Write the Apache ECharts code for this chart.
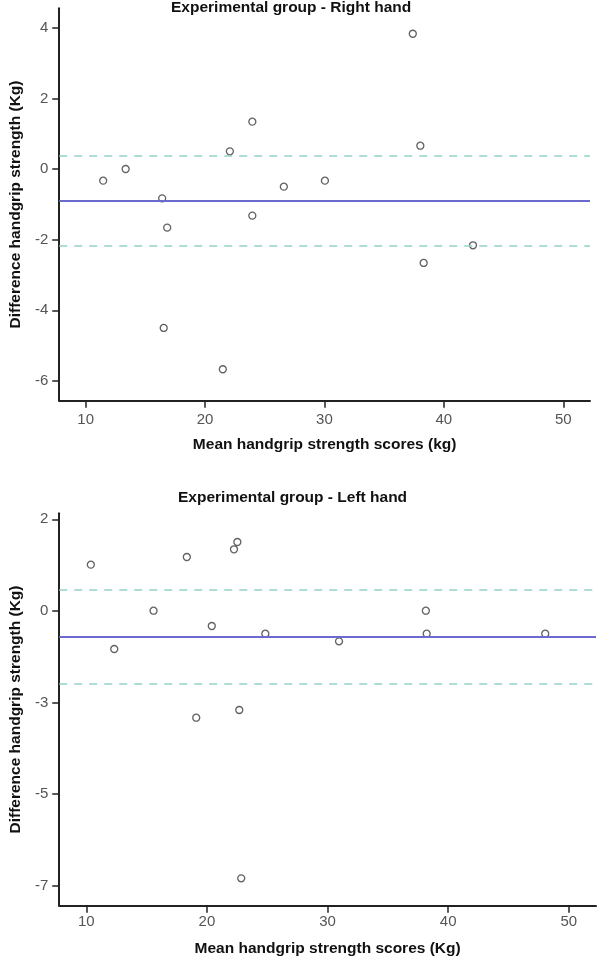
<!DOCTYPE html>
<html><head><meta charset="utf-8">
<script src="https://cdn.jsdelivr.net/npm/echarts@6/dist/echarts.min.js"></script>
<style>html,body{margin:0;padding:0;background:#fff}#c{width:597px;height:959px}</style>
</head><body><div id="c"></div>
<script>
// ---- Right hand (top panel) ----
const rightTitle = 'Experimental group - Right hand';
const rightXName = 'Mean handgrip strength scores (kg)';
const rightYName = 'Difference handgrip strength (Kg)';
const rightMeanScores = [11.47, 13.35, 16.41, 16.83, 16.54, 21.49, 22.08, 23.96, 23.96, 26.6, 30.04, 37.4, 38.03, 38.31, 42.44];
const rightDiffs      = [-0.33, 0.0, -0.83, -1.66, -4.5, -5.67, 0.5, 1.34, -1.32, -0.5, -0.33, 3.83, 0.66, -2.66, -2.16];
const rightBias = -0.9;
const rightUpperLoA = 0.38;
const rightLowerLoA = -2.18;
const rightXTicks = [10, 20, 30, 40, 50];
const rightYTicks = [-6, -4, -2, 0, 2, 4];
const rightYTickLabels = ['-6', '-4', '-2', '0', '2', '4'];

// ---- Left hand (bottom panel) ----
const leftTitle = 'Experimental group - Left hand';
const leftXName = 'Mean handgrip strength scores (Kg)';
const leftYName = 'Difference handgrip strength (Kg)';
const leftMeanScores = [10.37, 12.31, 15.57, 18.33, 20.4, 22.24, 22.52, 24.84, 30.95, 38.15, 38.22, 48.05, 19.11, 22.68, 22.84];
const leftDiffs      = [0.885, -1.186, -0.245, 1.074, -0.621, 1.263, 1.442, -0.81, -0.997, -0.245, -0.81, -0.81, -2.873, -2.684, -6.818];
const leftBias = -0.89;
const leftUpperLoA = 0.263;
const leftLowerLoA = -2.033;
const leftXTicks = [10, 20, 30, 40, 50];
const leftYTicks = [2, -0.25, -2.5, -4.75, -7];
const leftYTickLabels = ['2', '0', '-3', '-5', '-7'];

const FONT = 'Liberation Sans';
const axisLineStyle = { color: '#222', width: 2 };
const tickStyle = { length: 7, lineStyle: { color: '#222', width: 1.5 } };
const labelStyle = { color: '#555', fontSize: 15, fontFamily: FONT };
const nameStyle = { color: '#111', fontSize: 15.5, fontWeight: 'bold', fontFamily: FONT };

function zip(a, b) { return a.map((v, i) => [v, b[i]]); }
function lookup(vals, labels) {
  return function (v) {
    for (let i = 0; i < vals.length; i++) if (Math.abs(vals[i] - v) < 1e-6) return labels[i];
    return '';
  };
}
function refLines(bias, up, lo) {
  const dash = { color: '#94d2c8', width: 1.5, type: [8, 7] };
  return {
    silent: true, symbol: ['none', 'none'], label: { show: false },
    data: [
      { yAxis: up, lineStyle: dash },
      { yAxis: lo, lineStyle: dash },
      { yAxis: bias, lineStyle: { color: '#6b6bcf', width: 2, type: 'solid' } }
    ]
  };
}
const pointStyle = { color: '#fff', borderColor: '#3a3a3a', borderWidth: 1.3 };

const chart = echarts.init(document.getElementById('c'), null, { renderer: 'canvas' });
chart.setOption({
  animation: false,
  backgroundColor: '#fff',
  title: [
    { text: rightTitle, left: 171, top: 0, padding: 0, textStyle: nameStyle },
    { text: leftTitle, left: 178, top: 490, padding: 0, textStyle: nameStyle }
  ],
  grid: [
    { left: 49, top: 8.3, width: 541, height: 392.4 },
    { left: 55, top: 513.3, width: 541, height: 392.4 }
  ],
  xAxis: [
    { gridIndex: 0, type: 'value', min: 7.79, max: 52.24,
      name: rightXName, nameLocation: 'middle', nameGap: 36, nameTextStyle: nameStyle,
      axisLine: { onZero: false, lineStyle: axisLineStyle },
      axisTick: Object.assign({ customValues: rightXTicks }, tickStyle),
      axisLabel: Object.assign({ customValues: rightXTicks, margin: 12 }, labelStyle),
      splitLine: { show: false } },
    { gridIndex: 1, type: 'value', min: 7.75, max: 52.26,
      name: leftXName, nameLocation: 'middle', nameGap: 35, nameTextStyle: nameStyle,
      axisLine: { onZero: false, lineStyle: axisLineStyle },
      axisTick: Object.assign({ customValues: leftXTicks }, tickStyle),
      axisLabel: Object.assign({ customValues: leftXTicks, margin: 9 }, labelStyle),
      splitLine: { show: false } }
  ],
  yAxis: [
    { gridIndex: 0, type: 'value', min: -6.56, max: 4.55,
      name: rightYName, nameLocation: 'middle', nameGap: 32, nameTextStyle: nameStyle,
      axisLine: { onZero: false, lineStyle: axisLineStyle },
      axisTick: Object.assign({ customValues: rightYTicks }, tickStyle),
      axisLabel: Object.assign({ customValues: rightYTicks, margin: 11, formatter: lookup(rightYTicks, rightYTickLabels) }, labelStyle),
      splitLine: { show: false } },
    { gridIndex: 1, type: 'value', min: -7.49, max: 2.147,
      name: leftYName, nameLocation: 'middle', nameGap: 33, nameTextStyle: nameStyle,
      axisLine: { onZero: false, lineStyle: axisLineStyle },
      axisTick: Object.assign({ customValues: leftYTicks }, tickStyle),
      axisLabel: Object.assign({ customValues: leftYTicks, margin: 11, formatter: lookup(leftYTicks, leftYTickLabels) }, labelStyle),
      splitLine: { show: false } }
  ],
  series: [
    { type: 'scatter', xAxisIndex: 0, yAxisIndex: 0, symbol: 'circle', symbolSize: 7,
      itemStyle: pointStyle, data: zip(rightMeanScores, rightDiffs), z: 3,
      markLine: refLines(rightBias, rightUpperLoA, rightLowerLoA) },
    { type: 'scatter', xAxisIndex: 1, yAxisIndex: 1, symbol: 'circle', symbolSize: 7,
      itemStyle: pointStyle, data: zip(leftMeanScores, leftDiffs), z: 3,
      markLine: refLines(leftBias, leftUpperLoA, leftLowerLoA) }
  ]
});
</script>
</body></html>
